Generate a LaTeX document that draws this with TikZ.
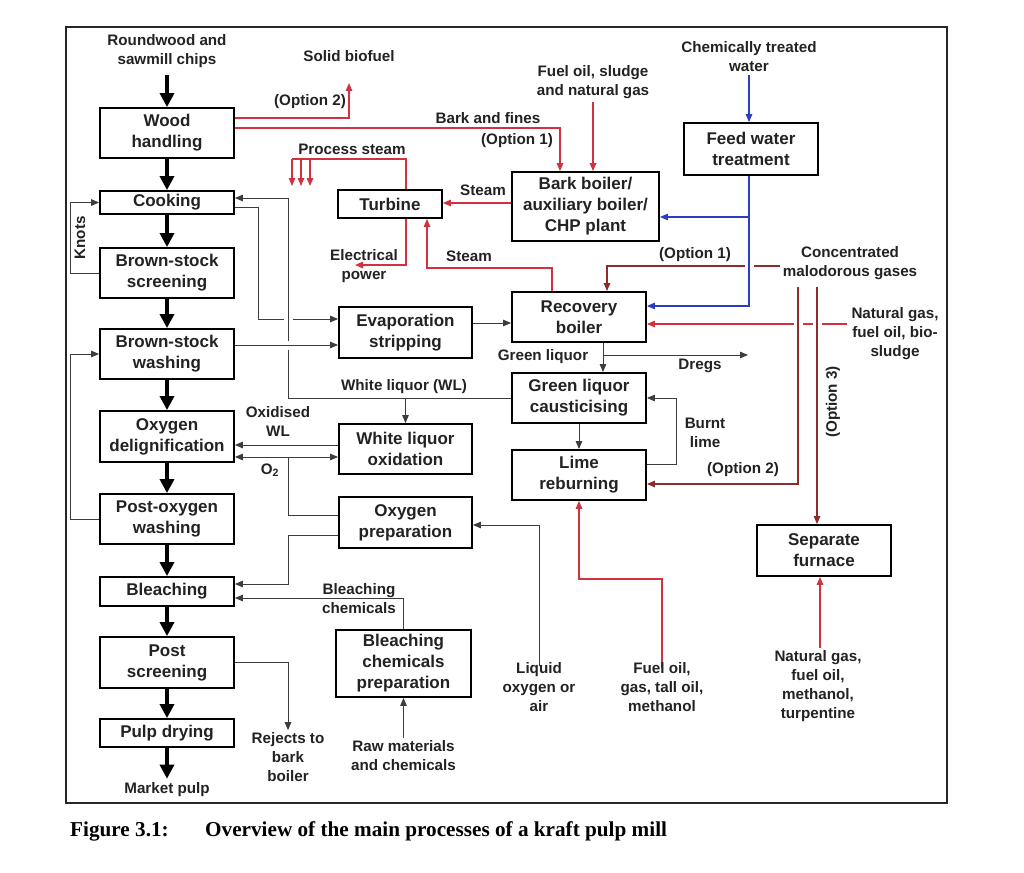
\documentclass[tikz,border=0pt]{standalone}
\usepackage{fontspec}
\setmainfont{Liberation Sans}
\newfontfamily\capfont{Liberation Serif}
\usetikzlibrary{arrows.meta,backgrounds}
\definecolor{lred}{HTML}{D0323E}
\definecolor{dred}{HTML}{8E2B2B}
\definecolor{lblue}{HTML}{2A3BC4}
\definecolor{lgray}{HTML}{3C3C3C}
\definecolor{txt}{HTML}{222222}
\begin{document}
\begin{tikzpicture}[x=1pt,y=-1pt,
 box/.style={draw=black,line width=1.8pt,align=center,inner sep=0pt,text=txt,font=\bfseries\fontsize{17}{21}\selectfont},
 lbl/.style={align=center,inner sep=0pt,text=txt,font=\bfseries\fontsize{15.2}{19}\selectfont},
 tip/.style={-{Triangle[length=8pt,width=6.5pt]}},
 main/.style={line width=3.3pt,draw=black,-{Triangle[length=14pt,width=14pt]}},
 ln/.style={line width=1pt,draw=lgray},
 arr/.style={ln,tip},
 rln/.style={line width=1.2pt,draw=lred},
 rarr/.style={rln,tip},
 dln/.style={line width=1.2pt,draw=dred},
 darr/.style={dln,tip},
 barr/.style={line width=1.2pt,draw=lblue,tip},
 hop/.style={preaction={draw=white,line width=9pt,-}},
 capt/.style={inner sep=0pt,anchor=base west,text=black,font=\capfont\bfseries\fontsize{21.2}{25}\selectfont}
]
\useasboundingbox (0,0) rectangle (1024,872);
\draw[line width=1.3pt,draw=black!85] (66,27) rectangle (947,803);

% ---- boxes: left column
\node[box,minimum width=134pt,minimum height=50pt] (wood) at (167,133) {Wood\\handling};
\node[box,minimum width=134pt,minimum height=23pt] (cook) at (167,202.5) {Cooking};
\node[box,minimum width=134pt,minimum height=50pt] (screen) at (167,273) {Brown-stock\\screening};
\node[box,minimum width=134pt,minimum height=50pt] (bsw) at (167,354) {Brown-stock\\washing};
\node[box,minimum width=134pt,minimum height=51pt] (odl) at (167,436.5) {Oxygen\\delignification};
\node[box,minimum width=134pt,minimum height=50pt] (postox) at (167,519) {Post-oxygen\\washing};
\node[box,minimum width=134pt,minimum height=29pt] (bleach) at (167,591.5) {Bleaching};
\node[box,minimum width=134pt,minimum height=51pt] (pscr) at (167,662.5) {Post\\screening};
\node[box,minimum width=134pt,minimum height=28pt] (pulp) at (167,733) {Pulp drying};
% ---- other boxes
\node[box,minimum width=104pt,minimum height=28pt] (turb) at (390,204) {Turbine};
\node[box,minimum width=147pt,minimum height=69pt] (bark) at (585.5,206.5) {Bark boiler/\\auxiliary boiler/\\CHP plant};
\node[box,minimum width=134pt,minimum height=52pt] (fwt) at (751,149) {Feed water\\treatment};
\node[box,minimum width=133pt,minimum height=51pt] (evap) at (405.5,332.5) {Evaporation\\stripping};
\node[box,minimum width=134pt,minimum height=50pt] (rec) at (579,317) {Recovery\\boiler};
\node[box,minimum width=133pt,minimum height=50pt] (wlo) at (405.5,449) {White liquor\\oxidation};
\node[box,minimum width=134pt,minimum height=50pt] (glc) at (579,398) {Green liquor\\causticising};
\node[box,minimum width=134pt,minimum height=50pt] (lr) at (579,475) {Lime\\reburning};
\node[box,minimum width=133pt,minimum height=51pt] (oxp) at (405.5,522.5) {Oxygen\\preparation};
\node[box,minimum width=135pt,minimum height=67pt] (bcp) at (403.5,663.5) {Bleaching\\chemicals\\preparation};
\node[box,minimum width=134pt,minimum height=51pt] (sepf) at (824,550.5) {Separate\\furnace};

% ---- labels
\node[lbl] (roundwood) at (167,51) {Roundwood and\\sawmill chips};
\node[lbl] (solidbio) at (349,56) {Solid biofuel};
\node[lbl] (opt2a) at (310,102) {(Option 2)};
\node[lbl] (barkfines) at (488,118) {Bark and fines};
\node[lbl] (opt1a) at (517,141) {(Option 1)};
\node[lbl] (fueloil1) at (593,82.5) {Fuel oil, sludge\\and natural gas};
\node[lbl] (chemwater) at (749,56.5) {Chemically treated\\water};
\node[lbl] (procsteam) at (352,149) {Process steam};
\node[lbl] (steam1) at (483,190) {Steam};
\node[lbl] (elec) at (364,266) {Electrical\\power};
\node[lbl] (steam2) at (469,256) {Steam};
\node[lbl] (opt1b) at (695,255) {(Option 1)};
\node[lbl] (cmg) at (850,263) {Concentrated\\malodorous gases};
\node[lbl] (natgas1) at (895,334) {Natural gas,\\fuel oil, bio-\\sludge};
\node[lbl] (greenliq) at (543,357) {Green liquor};
\node[lbl] (dregs) at (700,366) {Dregs};
\node[lbl] (wl) at (404,387) {White liquor (WL)};
\node[lbl] (oxwl) at (278,421) {Oxidised\\WL};
\node[lbl] (o2) at (270,470) {O\textsubscript{2}};
\node[lbl] (burnt) at (705,433) {Burnt\\lime};
\node[lbl] (opt2b) at (743,470) {(Option 2)};
\node[lbl,rotate=90] (opt3) at (833,402) {(Option 3)};
\node[lbl,rotate=90] (knots) at (80,238) {Knots};
\node[lbl] (bleachchem) at (359,598.5) {Bleaching\\chemicals};
\node[lbl] (liquidox) at (539,687) {Liquid\\oxygen or\\air};
\node[lbl] (fuelgas) at (662,687) {Fuel oil,\\gas, tall oil,\\methanol};
\node[lbl] (natgas2) at (818,686.5) {Natural gas,\\fuel oil,\\methanol,\\turpentine};
\node[lbl] (rejects) at (288,757) {Rejects to\\bark\\boiler};
\node[lbl] (rawmat) at (403.5,756) {Raw materials\\and chemicals};
\node[lbl] (market) at (167,790) {Market pulp};

% ---- caption
\node[capt] (figno) at (70,836) {Figure 3.1:};
\node[capt] (figtitle) at (205,836) {Overview of the main processes of a kraft pulp mill};

% ---- free ends
\coordinate (sbend) at (349,83);
\coordinate (elecend) at (355,265);
\coordinate (dregsjoin) at (603,355);
\coordinate (dregsend) at (748,355);
\coordinate (ngstart) at (847,324);
\coordinate (opt1start) at (780,266);
\coordinate (opt2start) at (798,287);
\coordinate (opt3start) at (817,287);

\begin{scope}[on background layer]
% main column
\draw[main,shorten <=7pt] (roundwood.south) -- (wood.north);
\draw[main] (wood.south) -- (cook.north);
\draw[main] (cook.south) -- (screen.north);
\draw[main] (screen.south) -- (bsw.north);
\draw[main] (bsw.south) -- (odl.north);
\draw[main] (odl.south) -- (postox.north);
\draw[main] (postox.south) -- (bleach.north);
\draw[main] (bleach.south) -- (pscr.north);
\draw[main] (pscr.south) -- (pulp.north);
\draw[main,shorten >=4pt] (pulp.south) -- (market.north);
% loops
\draw[arr] (screen.west) -- ++(-29,0) |- (cook.west);
\draw[arr] (postox.west) -- ++(-29,0) |- (bsw.west);
% cooking -> evaporation
\draw[arr] (cook.east |- 0,207) -| (258,319) -- (evap.west |- 0,319);
% white liquor
\draw[arr,hop] (glc.west) -- (288,398) -- (288,198) -- (cook.east |- 0,198);
\draw[arr] (wlo.north |- 0,398) -- (wlo.north);
\draw[arr,hop] (bsw.east |- 0,345) -- (evap.west |- 0,345);
\draw[arr] (evap.east |- 0,323) -- (rec.west |- 0,323);
\draw[arr] (wlo.west |- 0,445) -- (odl.east |- 0,445);
\draw[ln,{Triangle[length=8pt,width=6.5pt]}-{Triangle[length=8pt,width=6.5pt]}] (odl.east |- 0,457) -- (wlo.west |- 0,457);
\draw[ln] (288,457) |- (oxp.west |- 0,515);
\draw[arr] (oxp.west |- 0,535) -| (288,584) -- (bleach.east |- 0,584);
\draw[arr,shorten <=-4pt] (liquidox.north) |- (oxp.east |- 0,525);
\draw[arr] (bcp.north) |- (bleach.east |- 0,598);
\draw[arr,shorten <=3pt] (rawmat.north) -- (bcp.south);
\draw[arr,shorten >=2pt] (pscr.east) -| (rejects.north);
\draw[arr] (glc.south) -- (lr.north);
\draw[arr] (rec.south -| 603,0) -- (glc.north -| 603,0);
\draw[arr] (dregsjoin) -- (dregsend);
\draw[arr] (lr.east |- 0,464) -| (676,398) -- (glc.east);
% red
\draw[rarr] (wood.east |- 0,118) -| (sbend);
\draw[rarr] (wood.east |- 0,128) -| (bark.north -| 560,0);
\draw[rarr,shorten <=3pt] (fueloil1.south -| 593,0) -- (bark.north -| 593,0);
\draw[rarr] (bark.west |- 0,203) -- (turb.east |- 0,203);
\draw[rln] (turb.north -| 406,0) |- (292,159);
\draw[rarr] (292,159) -- (292,186);
\draw[rarr] (301,159) -- (301,186);
\draw[rarr] (310,159) -- (310,186);
\draw[rarr] (turb.south -| 406,0) |- (elecend);
\draw[rarr] (rec.north -| 552,0) -- (552,268) -| (turb.south -| 427,0);
\draw[rarr] (ngstart) -- (rec.east |- 0,324);
\draw[rarr,shorten <=-6pt] (fuelgas.north) -- (662,579) -| (lr.south);
\draw[rarr,shorten <=3pt] (natgas2.north -| 820,0) -- (sepf.south -| 820,0);
% dark red (concentrated malodorous gases)
\draw[darr] (opt1start) -- (607,266) -- (rec.north -| 607,0);
\draw[darr,hop] (opt2start) |- (lr.east |- 0,484);
\draw[darr,hop] (opt3start) -- (sepf.north -| 817,0);
% blue
\draw[barr,shorten <=3pt] (chemwater.south -| 749,0) -- (fwt.north -| 749,0);
\draw[barr,hop] (fwt.south -| 749,0) |- (rec.east |- 0,306);
\draw[barr] (749,217) -- (bark.east |- 0,217);
\end{scope}
\end{tikzpicture}
\end{document}
